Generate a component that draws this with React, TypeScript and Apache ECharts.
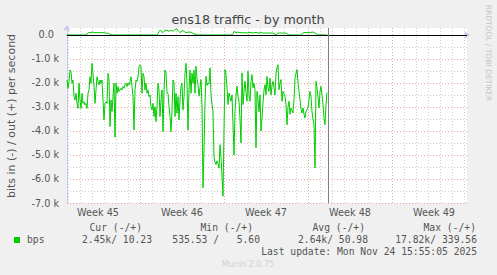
import React, { useEffect, useRef } from 'react';
import * as echarts from 'echarts';

const TITLE = 'ens18 traffic - by month';
const Y_NAME = 'bits in (-) / out (+) per second';
const WATERMARK = 'RRDTOOL / TOBI OETIKER';
const VERSION = 'Munin 2.0.75';
const WEEK_LABELS = ['Week 45', 'Week 46', 'Week 47', 'Week 48', 'Week 49'];
const SERIES_NAME = 'bps';
const LEGEND_HEADERS = ['Cur (-/+)', 'Min (-/+)', 'Avg (-/+)', 'Max (-/+)'];
const LEGEND_VALUES_LEFT = ['2.45k/', '535.53 /', '2.64k/', '17.82k/'];
const LEGEND_VALUES_RIGHT = ['10.23', '5.60', '50.98', '339.56'];
const LAST_UPDATE = 'Last update: Mon Nov 24 15:55:05 2025';

// hours since the left edge of the plot, one sample every 2 h
const SAMPLE_HOURS = 2;
const AXIS_END_HOUR = 800;
const NOW_HOUR = 522;
const WEEK_LINE_HOURS = [146, 314, 482, 650];
const FIRST_DAY_LINE_HOUR = 2;
const Y_MIN = -7000;
const Y_MAX = 290;

// bits per second, "in" drawn negative
const IN_BPS = [
  -1875, -2220, -1940, -1460, -1530, -2010, -1875, -2570, -2710, -2430,
  -2850, -3060, -2010, -2710, -3060, -2430, -2850, -2780, -2920, -2850,
  -3060, -2430, -2290, -1740, -2010, -1180, -1600, -2150, -2850, -2290,
  -1740, -1940, -2080, -1875, -2010, -1875, -2710, -3540, -2850, -2780,
  -2850, -1600, -1875, -3820, -2710, -3190, -2570, -2010, -4260, -2010,
  -2430, -2150, -2360, -2290, -2220, -2290, -2150, -2220, -2080, -2010,
  -2150, -2010, -2080, -1940, -1740, -2150, -2570, -3960, -2290, -1875,
  -1940, -1740, -1320, -1250, -1320, -2430, -1600, -1740, -2290, -2010,
  -2430, -2290, -2570, -2500, -2990, -3125, -2850, -3400, -2990, -3610,
  -2990, -2010, -2290, -3400, -2710, -2290, -4030, -2290, -1460, -1600,
  -2430, -2430, -2990, -3400, -4030, -3125, -1875, -2010, -3400, -2430,
  -3260, -2570, -3540, -2710, -2150, -2010, -3125, -2570, -1600, -1180,
  -2010, -3960, -2290, -1460, -2430, -1600, -2010, -1460, -2430, -1300,
  -1800, -2070, -2550, -2200, -1860, -3000, -6370, -4800, -2800, -1720,
  -2100, -2000, -2050, -1370, -2500, -2900, -3200, -5100, -5300, -5400,
  -5250, -5350, -5550, -4570, -5100, -5900, -6720, -4000, -1440, -1650,
  -2200, -2900, -2420, -2600, -2760, -2500, -3740, -5000, -3200, -2500,
  -2140, -2550, -2760, -3500, -4500, -1580, -2900, -2350, -1930, -2400,
  -2760, -1510, -2500, -2760, -1930, -1650, -2200, -2000, -2300, -4700,
  -2350, -2700, -3200, -2500, -4000, -3460, -2830, -2300, -2070, -2500,
  -1720, -2200, -2350, -1800, -2500, -2100, -1930, -2200, -2500, -1600,
  -1370, -1240, -2280, -2000, -1860, -2760, -2350, -2450, -2550, -2900,
  -3740, -3000, -2760, -3300, -3040, -3150, -3250, -2700, -1800, -1600,
  -1440, -2000, -2350, -2700, -3100, -3250, -3040, -3300, -3460, -3180,
  -3100, -3040, -2700, -2350, -2550, -3200, -3530, -3740, -5540, -1930,
  -2200, -2600, -3040, -2350, -2140, -2500, -2900, -3460, -3740, -2900,
  -2400,
];

const OUT_BPS = [
  0, 0, 0, 0, 0, 0, 0, 0, 0, 0, 0, 0, 0, 0, 0, 0, 0, 0, 0, 0,
  40, 80, 100, 90, 100, 110, 120, 100, 100, 90, 100, 100, 80, 100, 100, 90, 100, 100, 80, 80, 70, 80, 50, 20,
  0, 0, 0, 0, 0, 0, 0, 0, 0, 0, 0, 0, 0, 0, 0, 0, 0, 0, 0, 0, 0, 0, 0, 0,
  0, 0, 0, 0, 0, 0, 0, 0, 0, 0, 0, 0, 0, 0, 0, 0, 0, 0, 0, 0, 0, 0, 0,
  50, 150, 200, 180, 120, 100, 150, 180, 200, 200, 170, 150, 180, 200, 180, 150, 200, 220, 250, 240,
  200, 150, 100, 120, 180, 170, 150, 120, 100, 100, 120, 120, 110, 120, 100, 60, 50, 40, 20,
  0, 0, 0, 0, 0, 0, 0, 0, 0, 0, 0, 0, 0, 0, 0, 0, 0, 0,
  0, 0, 0, 0, 0, 0, 0, 0, 0, 0, 0, 0, 0, 0, 0, 0, 0, 0,
  60, 150, 120, 100, 100, 120, 100, 100, 100, 90, 80, 100, 100, 80, 80, 100, 100, 100, 100, 90,
  80, 100, 100, 100, 100, 80, 80, 100, 100, 80, 80, 80, 80, 80, 80, 80, 80, 80, 80, 80,
  80, 50, 20, 0, 50, 80, 80, 80, 80, 80, 80, 80, 80, 70, 50, 20,
  0, 0, 0, 0, 0, 0, 0, 0, 0, 0, 0, 0, 0,
  50, 80, 100, 100, 100, 100, 100, 100, 100, 110, 120, 120, 100, 80, 50, 20,
  0, 0, 0, 0, 0, 0, 0, 0, 0, 0,
];

const GREEN = '#00cc00';
const TEXT = '#555555';
const SANS = '"DejaVu Sans", sans-serif';
const MONO = '"DejaVu Sans Mono", monospace';

function fmtY(v: number): string {
  if (v % 1000 !== 0) return '';
  if (v === 0) return '{z|0.0}';
  return (v / 1000).toFixed(1) + ' k';
}

export default function App() {
  const ref = useRef<HTMLDivElement>(null);
  useEffect(() => {
    if (!ref.current) return;
    const chart = echarts.init(ref.current, undefined, { renderer: 'svg' });

    const inData = IN_BPS.map((v, i) => [i * SAMPLE_HOURS, v]);
    const outData = OUT_BPS.map((v, i) => [i * SAMPLE_HOURS, v]);

    const dayLines: any[] = [];
    for (let h = FIRST_DAY_LINE_HOUR; h < AXIS_END_HOUR; h += 24) {
      const major = WEEK_LINE_HOURS.includes(h);
      dayLines.push({
        xAxis: h,
        lineStyle: { color: major ? '#eba3a3' : '#cfcfcf', type: [1, 2], width: 1 },
      });
    }

    const yTicks: string[] = [];
    for (let i = 0; i < 16; i++) yTicks.push(i === 15 ? 'transparent' : i % 2 === 0 ? '#eba3a3' : '#cfcfcf');

    const legendCols = [142, 253, 365, 476];
    const valRight = [152, 260, 368, 477];
    const valSplit = [117, 219, 333, 436];

    const graphics: any[] = [
      { type: 'text', x: 248, y: 19, style: { text: TITLE, font: `12.7px ${SANS}`, fill: '#444', align: 'center', verticalAlign: 'middle' } },
      { type: 'text', x: 11, y: 116, rotation: Math.PI / 2, style: { text: Y_NAME, font: `11px ${SANS}`, fill: TEXT, align: 'center', verticalAlign: 'middle' } },
      { type: 'text', x: 488, y: 53, rotation: -Math.PI / 2, style: { text: WATERMARK, font: `7.5px ${SANS}`, fill: '#c4c4c4', align: 'center', verticalAlign: 'middle' } },
      { type: 'rect', shape: { x: 14, y: 237, width: 6, height: 6 }, style: { fill: GREEN } },
      { type: 'text', x: 27, y: 239.5, style: { text: SERIES_NAME, font: `9.7px ${MONO}`, fill: TEXT, align: 'left', verticalAlign: 'middle' } },
      { type: 'text', x: 477, y: 251, style: { text: LAST_UPDATE, font: `9.7px ${MONO}`, fill: TEXT, align: 'right', verticalAlign: 'middle' } },
      { type: 'text', x: 248, y: 264, style: { text: VERSION, font: `8px ${SANS}`, fill: '#d0d0d0', align: 'center', verticalAlign: 'middle' } },
    ];
    LEGEND_HEADERS.forEach((t, i) => {
      graphics.push({ type: 'text', x: legendCols[i], y: 227.7, style: { text: t, font: `9.7px ${MONO}`, fill: TEXT, align: 'right', verticalAlign: 'middle' } });
      graphics.push({ type: 'text', x: valSplit[i], y: 239.5, style: { text: LEGEND_VALUES_LEFT[i], font: `9.7px ${MONO}`, fill: TEXT, align: 'right', verticalAlign: 'middle' } });
      graphics.push({ type: 'text', x: valRight[i], y: 239.5, style: { text: LEGEND_VALUES_RIGHT[i], font: `9.7px ${MONO}`, fill: TEXT, align: 'right', verticalAlign: 'middle' } });
    });

    chart.setOption({
      animation: false,
      backgroundColor: '#f0f0f0',
      grid: [
        { left: 67, top: 28, width: 400, height: 175, show: true, backgroundColor: '#ffffff', borderWidth: 0 },
        { left: 56, top: 28, width: 420, height: 175, show: false },
      ],
      xAxis: [
        {
          type: 'value', gridIndex: 0, min: 0, max: AXIS_END_HOUR,
          axisLabel: { show: false }, axisTick: { show: false }, splitLine: { show: false },
          axisLine: { show: true, symbol: ['none', 'arrow'], symbolSize: [6, 6], symbolOffset: [0, 3], lineStyle: { color: '#c6c9ec', width: 1 } },
        },
        {
          type: 'category', gridIndex: 1, data: WEEK_LABELS, boundaryGap: true,
          axisLine: { show: false }, axisTick: { show: false }, splitLine: { show: false },
          axisLabel: { color: TEXT, fontFamily: SANS, fontSize: 9.7, margin: 4 },
        },
      ],
      yAxis: [
        {
          type: 'value', gridIndex: 0, min: Y_MIN, max: Y_MAX, interval: 500,
          axisLine: { show: true, symbol: ['none', 'arrow'], symbolSize: [6, 6], symbolOffset: [0, 3], lineStyle: { color: '#c6c9ec', width: 1 } },
          axisTick: { show: false },
          axisLabel: {
            formatter: fmtY, color: TEXT, fontFamily: SANS, fontSize: 9.7, margin: 8,
            rich: { z: { color: TEXT, fontFamily: SANS, fontSize: 9.7, padding: [0, 5, 0, 0] } },
          },
          splitLine: { show: true, showMaxLine: false, lineStyle: { color: yTicks, type: [1, 2], width: 1 } },
        },
        { type: 'value', gridIndex: 1, show: false, min: 0, max: 1 },
      ],
      series: [
        {
          name: 'in', type: 'line', xAxisIndex: 0, yAxisIndex: 0, data: inData, showSymbol: false, z: 3,
          lineStyle: { color: GREEN, width: 1 }, itemStyle: { color: GREEN },
          markLine: { silent: true, symbol: 'none', z: 1, label: { show: false }, emphasis: { disabled: true }, data: dayLines },
        },
        {
          name: 'out', type: 'line', xAxisIndex: 0, yAxisIndex: 0, data: outData, showSymbol: false, z: 3,
          lineStyle: { color: GREEN, width: 1 }, itemStyle: { color: GREEN },
          markLine: {
            silent: true, symbol: 'none', z: 10, label: { show: false }, emphasis: { disabled: true },
            data: [
              { yAxis: 0, lineStyle: { color: '#000000', type: 'solid', width: 1 } },
              { xAxis: NOW_HOUR, lineStyle: { color: '#808080', type: 'solid', width: 1 } },
            ],
          },
        },
      ],
      graphic: graphics,
    });
    return () => chart.dispose();
  }, []);
  return <div ref={ref} style={{ position: 'fixed', left: 0, top: 0, width: 497, height: 275 }} />;
}
